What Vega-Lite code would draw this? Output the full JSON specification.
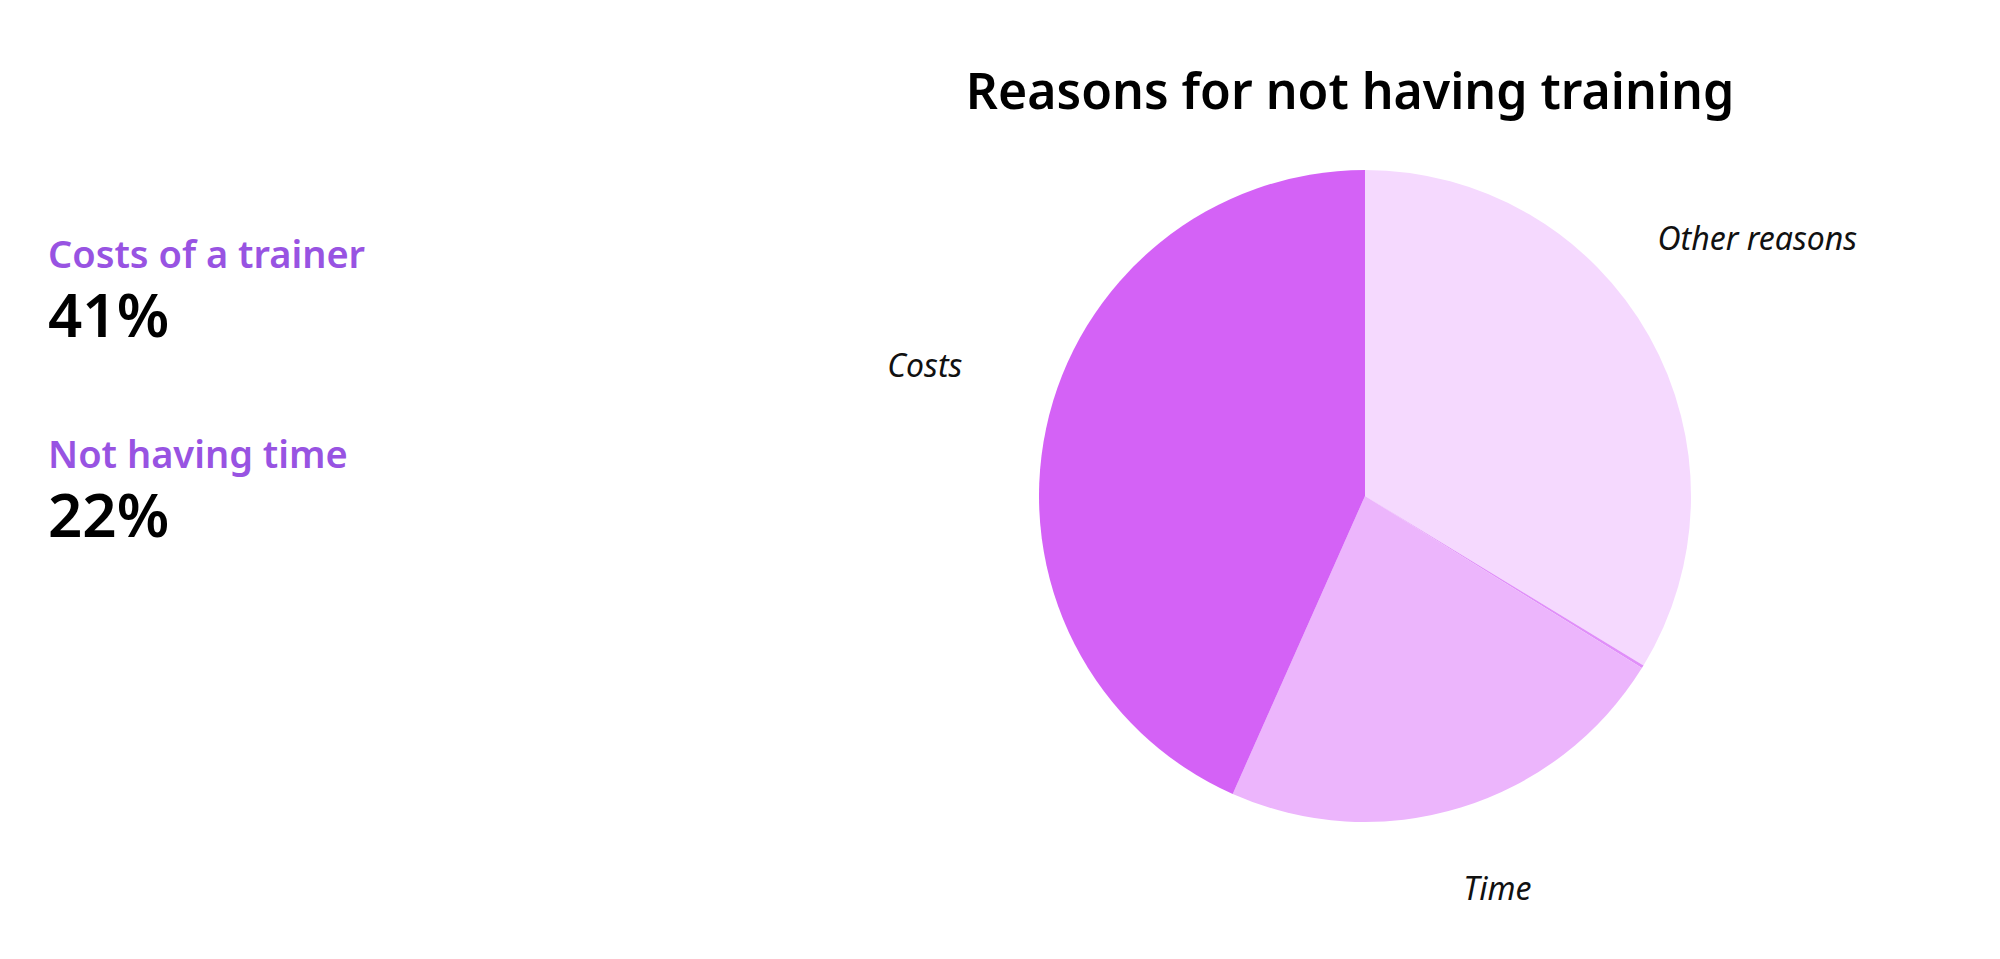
{
  "$schema": "https://vega.github.io/schema/vega-lite/v6.json",
  "autosize": {"type": "pad"},
  "padding": {"left": 48, "top": 69, "right": 5, "bottom": 5},
  "background": "white",
  "bounds": "flush",
  "spacing": 591,
  "config": {
    "view": {"stroke": null},
    "font": "Noto Sans",
    "text": {"font": "Noto Sans"}
  },
  "hconcat": [
    {
      "width": 400,
      "height": 464,
      "data": {
        "values": [
          {"metric": "Costs of a trainer", "value": "41%"},
          {"metric": "Not having time", "value": "22%"}
        ]
      },
      "encoding": {
        "y": {"field": "metric", "type": "nominal", "sort": null, "axis": null, "scale": {"type": "point", "padding": 0.66}},
        "x": {"datum": 0, "type": "quantitative", "axis": null, "scale": {"domain": [0, 1]}}
      },
      "layer": [
        {
          "mark": {"type": "text", "align": "left", "baseline": "alphabetic", "dy": -34, "fontSize": 38, "fontWeight": 600, "color": "#9853e2"},
          "encoding": {"text": {"field": "metric"}}
        },
        {
          "mark": {"type": "text", "align": "left", "baseline": "alphabetic", "dy": 35, "fontSize": 60, "fontWeight": 600, "color": "#000000"},
          "encoding": {"text": {"field": "value"}}
        }
      ]
    },
    {
      "width": 652,
      "height": 652,
      "title": {
        "text": "Reasons for not having training",
        "fontSize": 50,
        "fontWeight": 600,
        "font": "Noto Sans",
        "color": "#000000",
        "anchor": "middle",
        "baseline": "alphabetic",
        "frame": "group",
        "offset": 11,
        "dx": -15
      },
      "data": {
        "values": [
          {"reason": "Other reasons", "label": "Other reasons", "share": 33.7, "rank": 1},
          {"reason": "Not stated", "label": "", "share": 0.15, "rank": 2},
          {"reason": "Time", "label": "Time", "share": 22.8, "rank": 3},
          {"reason": "Costs", "label": "Costs", "share": 43.35, "rank": 4}
        ]
      },
      "encoding": {
        "theta": {"field": "share", "type": "quantitative", "stack": true},
        "order": {"field": "rank", "type": "quantitative"}
      },
      "layer": [
        {
          "mark": {"type": "arc"},
          "encoding": {
            "color": {
              "field": "reason",
              "type": "nominal",
              "legend": null,
              "scale": {
                "domain": ["Other reasons", "Not stated", "Time", "Costs"],
                "range": ["#f5d9fe", "#e08ff9", "#ecb5fc", "#d462f6"]
              }
            }
          }
        },
        {
          "mark": {"type": "text", "radius": 450, "dy": -36, "fontSize": 32, "fontStyle": "italic", "color": "#111111"},
          "encoding": {"text": {"field": "label"}}
        }
      ]
    }
  ]
}
